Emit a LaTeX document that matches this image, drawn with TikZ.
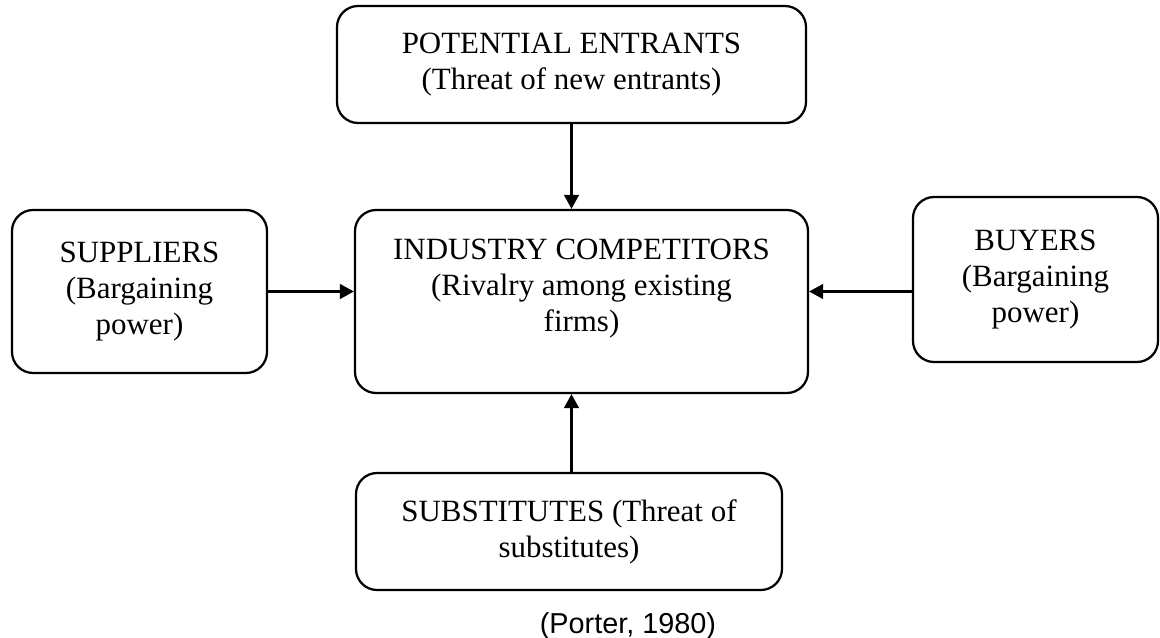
\documentclass[tikz,border=0pt]{standalone}
\usepackage{fontspec}
\setmainfont{Liberation Serif}
\newfontfamily\citefont{Liberation Sans}
\usepackage{tikz}
\usetikzlibrary{arrows.meta, calc}

\begin{document}
\begin{tikzpicture}[
  x=0.025cm, y=-0.025cm,
  font=\fontsize{22}{25.5}\selectfont,
  force/.style={rectangle, draw, line width=1.6pt, rounded corners=15pt, align=center, inner sep=0pt},
  push/.style={-{Triangle[length=10pt, width=10.5pt]}, line width=1.6pt}
]
  \useasboundingbox (0,0) rectangle (1160,638);
  \node[force, minimum width=469*0.025cm, minimum height=117*0.025cm] (ent) at (571.5,64.5) {POTENTIAL ENTRANTS\\(Threat of new entrants)};
  \node[force, minimum width=453*0.025cm, minimum height=183*0.025cm] (cmp) at (581.5,301.5) {INDUSTRY COMPETITORS\\(Rivalry among existing\\firms)\\[-2pt]\mbox{}};
  \node[force, minimum width=255*0.025cm, minimum height=163*0.025cm] (sup) at (139.5,291.5) {SUPPLIERS\\(Bargaining\\power)};
  \node[force, minimum width=245*0.025cm, minimum height=165*0.025cm] (buy) at (1035.5,279.5) {BUYERS\\(Bargaining\\power)};
  \node[force, minimum width=426*0.025cm, minimum height=117*0.025cm] (sub) at (569,531.5) {SUBSTITUTES (Threat of\\substitutes)};
  % forces acting on the industry
  \draw[push] (ent.south) -- (ent.south |- cmp.north);
  \draw[push] (sub.north -| ent.south) -- (ent.south |- cmp.south);
  \draw[push] (sup.east) -- (sup.east -| cmp.west);
  \draw[push] (buy.west |- sup.east) -- (cmp.east |- sup.east);
  \node[font=\citefont\fontsize{20.5}{24}\selectfont] (src) at (628,626) {(Porter, 1980)};
\end{tikzpicture}
\end{document}
